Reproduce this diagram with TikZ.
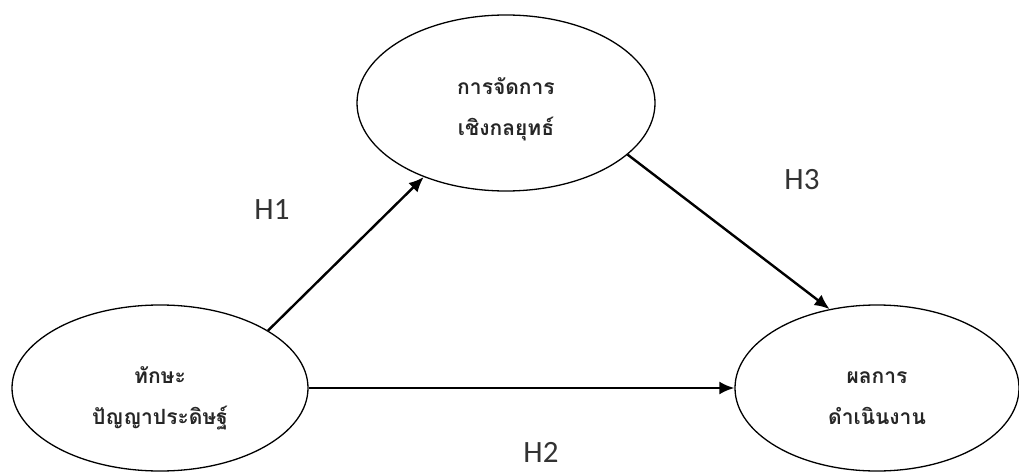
\documentclass[tikz,border=0pt]{standalone}
\usepackage{fontspec}
\setmainfont{Carlito}
\newfontfamily\thaifont[Script=Thai]{Loma}
\usetikzlibrary{shapes.geometric,arrows.meta}
\begin{document}
\begin{tikzpicture}[x=1pt,y=-1pt,
  construct/.style={draw,line width=1.3pt,ellipse,inner sep=0pt},
  ctext/.style={font=\thaifont\bfseries\fontsize{21}{41}\selectfont,align=center,text=black!85,inner sep=0pt},
  path/.style={line width=2.4pt,-{Latex[length=15pt,width=13pt]}},
  hlabel/.style={font=\fontsize{31}{36}\selectfont,text=black!80}]
\useasboundingbox (0,0) rectangle (1019,473);
\node[construct,minimum width=298pt,minimum height=176pt] (T) at (506,103) {};
\node[construct,minimum width=296pt,minimum height=166pt] (L) at (160,388) {};
\node[construct,minimum width=284pt,minimum height=166pt] (R) at (877,388) {};
\node[ctext] (Tt) at ([yshift=-6pt]T.center) {การจัดการ\\เชิงกลยุทธ์};
\node[ctext] (Lt) at ([yshift=-10pt]L.center) {ทักษะ\\ปัญญาประดิษฐ์};
\node[ctext] (Rt) at ([yshift=-10pt]R.center) {ผลการ\\ดำเนินงาน};
\draw[path] (L.28) -- (T.222);
\draw[path] (T.-23) -- (R.121);
\draw[path] (L.east) -- (R.west);
\node[hlabel] (h1) at (272,210) {H1};
\node[hlabel] (h3) at (802,180) {H3};
\node[hlabel] (h2) at (541,452) {H2};
\end{tikzpicture}
\end{document}
